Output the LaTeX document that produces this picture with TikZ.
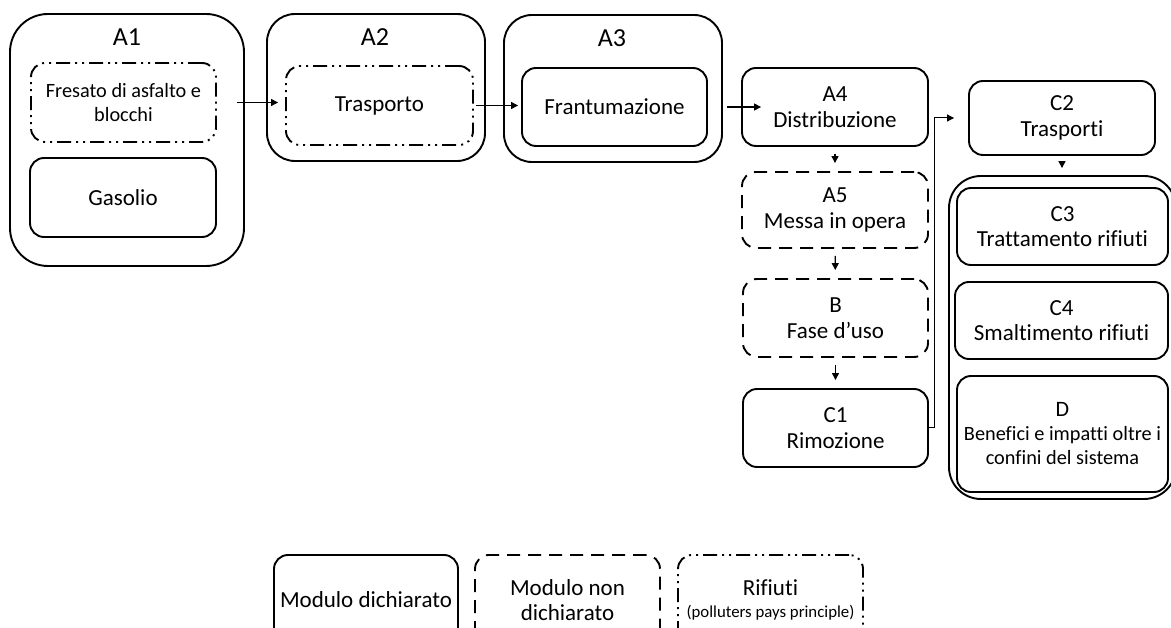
\documentclass[tikz,border=0pt]{standalone}
\usepackage{fontspec}
\setmainfont{Carlito}[Ligatures={NoCommon}]
\usetikzlibrary{arrows.meta}

\begin{document}
\begin{tikzpicture}[
  x=1pt, y=-1pt,
  box/.style={draw, rectangle, rounded corners=14pt, align=center,
              line width=1.9pt, inner sep=2pt, font=\fontsize{23}{25.5}\selectfont},
  declared/.style={box},
  undeclared/.style={box, dash pattern=on 13pt off 8pt},
  waste/.style={box, dash pattern=on 14pt off 5pt on 2pt off 5pt on 2pt off 5pt},
  group/.style={draw, rectangle, line width=1.9pt, rounded corners=32pt},
  head/.style={font=\fontsize{26}{28}\selectfont},
  small/.style={font=\fontsize{20.3}{24}\selectfont},
  arr/.style={-{Triangle[length=7pt,width=7pt]}, line width=1.3pt},
  shortarr/.style={arr, shorten <=7pt, shorten >=8pt},
  >=Stealth
]
\clip (0,0) rectangle (1171,628);

% ---- Module A1 ----
\node[group, minimum width=234pt, minimum height=252pt, rounded corners=38pt] (A1) at (127,140) {};
\node[head] (lblA1) at (127,37) {A1};
\node[waste, small, minimum width=185pt, minimum height=79pt] (fresato) at (123.5,102.5)
  {Fresato di asfalto e\\blocchi};
\node[declared, minimum width=186pt, minimum height=79pt] (gasolio) at (123,197.5) {Gasolio};

% ---- Module A2 ----
\node[group, minimum width=218pt, minimum height=147pt, rounded corners=28pt] (A2) at (376,87.5) {};
\node[head] (lblA2) at (375,37) {A2};
\node[waste, minimum width=187pt, minimum height=79pt] (trasp) at (379.5,105.5) {Trasporto};

% ---- Module A3 ----
\node[group, minimum width=218pt, minimum height=147pt, rounded corners=28pt] (A3) at (613,88.5) {};
\node[head] (lblA3) at (612,38) {A3};
\node[declared, minimum width=185pt, minimum height=78pt] (frant) at (614.5,107) {Frantumazione};

% ---- Column A4 -- C1 ----
\node[declared, minimum width=186pt, minimum height=78pt] (A4) at (835,107) {A4\\Distribuzione};
\node[undeclared, minimum width=186pt, minimum height=76pt] (A5) at (835,210) {A5\\Messa in opera};
\node[undeclared, minimum width=185pt, minimum height=78pt] (B) at (835.5,318) {B\\Fase d’uso};
\node[declared, minimum width=185pt, minimum height=78pt] (C1) at (835.5,428) {C1\\Rimozione};

% ---- Column C2 -- D ----
\node[declared, minimum width=186pt, minimum height=74pt] (C2) at (1062,118) {C2\\Trasporti};
\node[group, minimum width=227pt, minimum height=323pt] (CD) at (1062.5,337.5) {};
\node[declared, minimum width=211pt, minimum height=77pt] (C3) at (1062.5,226.5) {C3\\Trattamento rifiuti};
\node[declared, minimum width=213pt, minimum height=77pt] (C4) at (1061.5,320.5) {C4\\Smaltimento rifiuti};
\node[declared, small, minimum width=211pt, minimum height=116pt] (D) at (1062.5,434)
  {\fontsize{22}{24}\selectfont D\\Benefici e impatti oltre i\\confini del sistema};

% ---- Legend ----
\node[declared, minimum width=184pt, minimum height=90pt] (leg1) at (366,600) {Modulo dichiarato};
\node[undeclared, minimum width=185pt, minimum height=90pt] (leg2) at (567.5,600) {Modulo non\\dichiarato};
\node[waste, minimum width=185pt, minimum height=90pt] (leg3) at (770.5,600)
  {Rifiuti\\[-4pt]{\fontsize{16.8}{18}\selectfont(polluters pays principle)}};

% ---- Edges ----
\draw[arr, shorten <=20pt, shorten >=7pt] (fresato.east) -- (fresato.east -| trasp.west);
\draw[arr, shorten <=2pt, shorten >=3pt] (trasp.east) -- (trasp.east -| frant.west);
\draw[arr, shorten <=4pt] (A3.east |- A4.west) -- ([xshift=20pt]A4.west);

\draw[shortarr] (A4) -- (A5);
\draw[shortarr] (A5) -- (B);
\draw[shortarr] (B) -- (C1);

\draw[arr, line width=1pt, shorten >=14pt] (C1.east) -- ++(6,0) |- (C2.west);
\draw[arr, shorten <=5pt, shorten >=7pt] (C2) -- (C2.south |- CD.north);

\end{tikzpicture}
\end{document}
